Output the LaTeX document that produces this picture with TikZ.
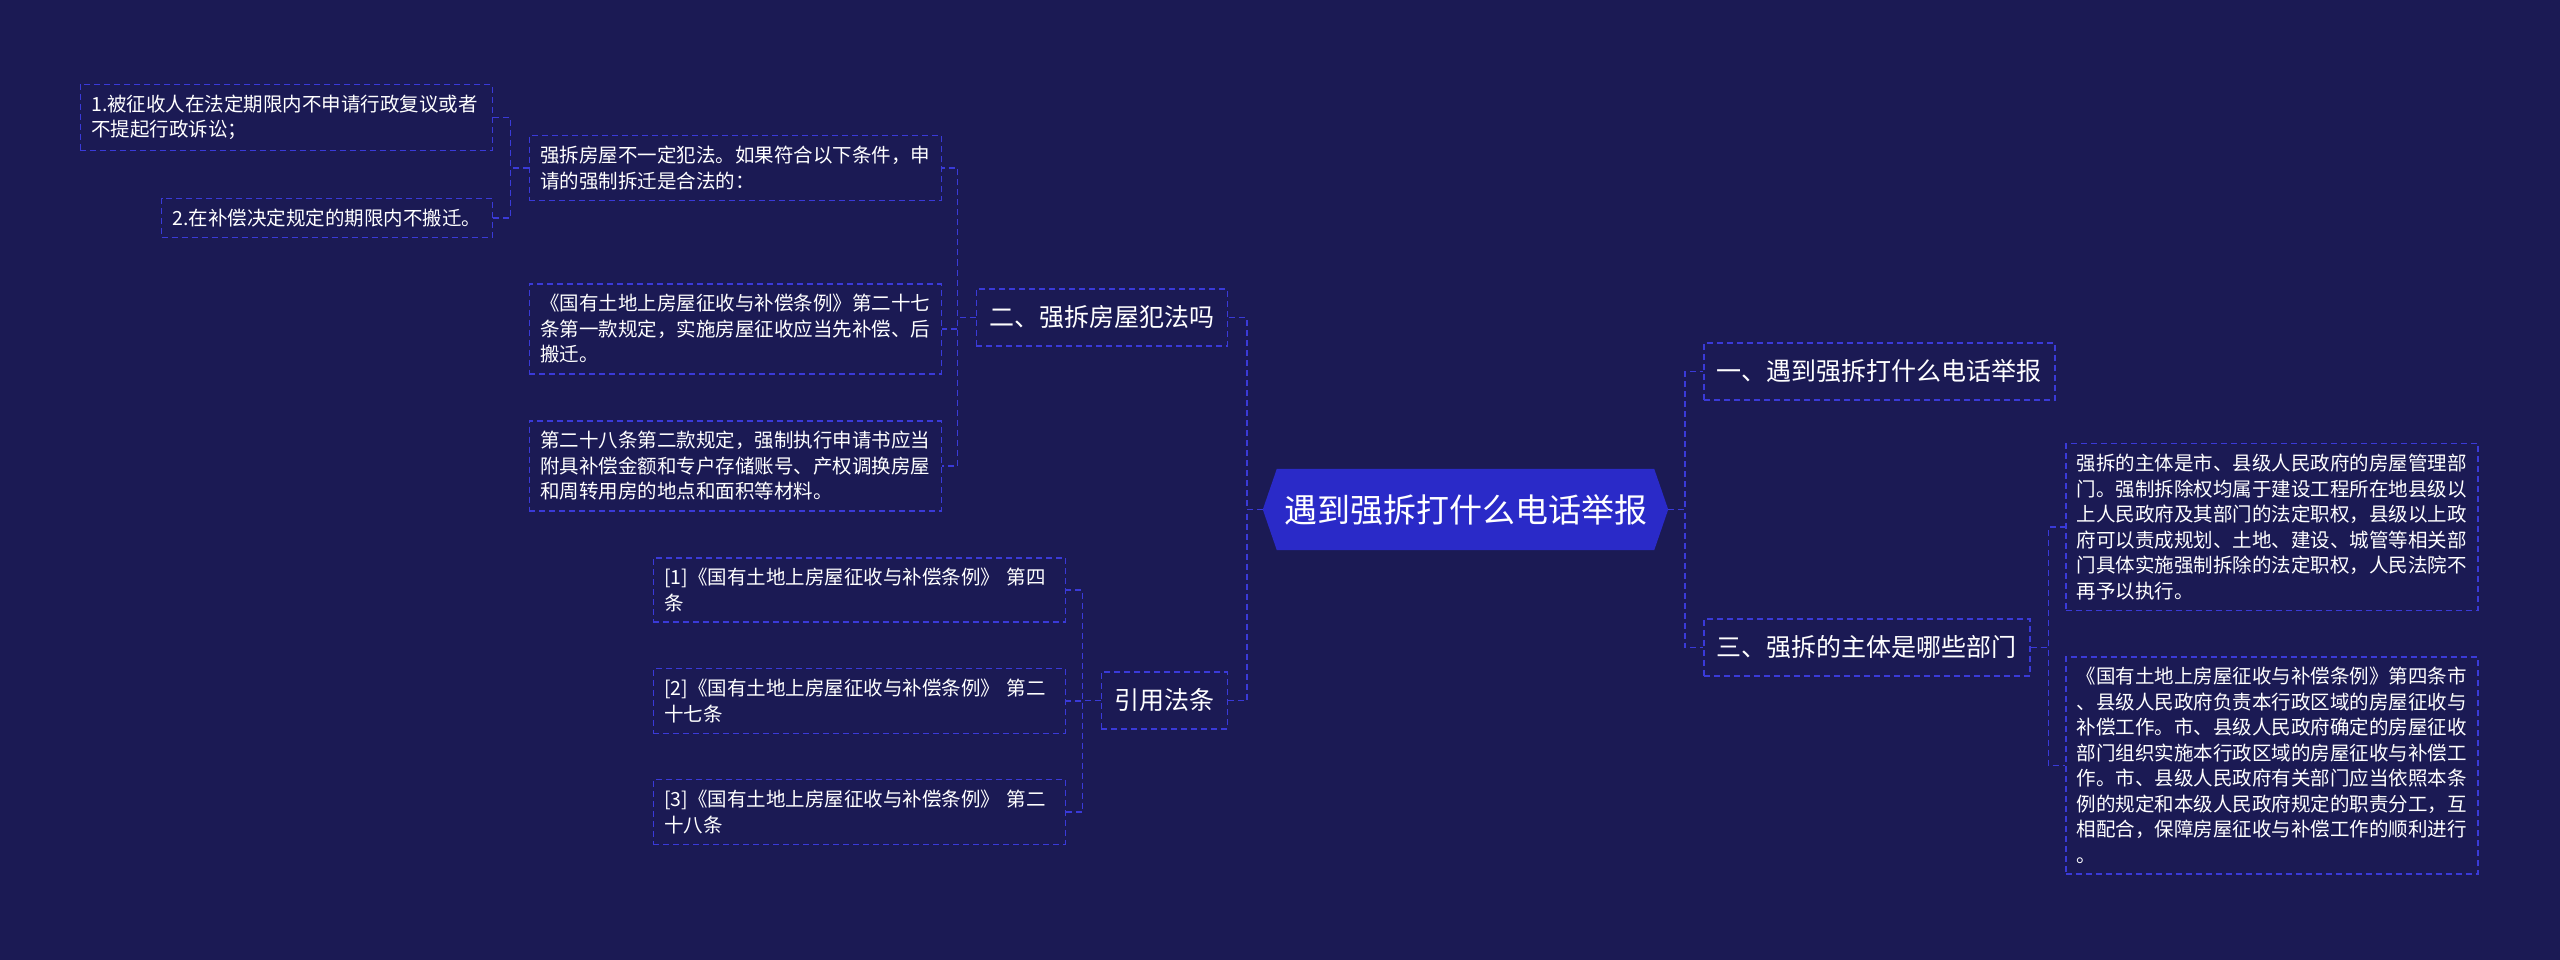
\documentclass[tikz,border=0pt]{standalone}
\usepackage{fontspec}
\setmainfont{Noto Sans CJK SC}
\usetikzlibrary{backgrounds}
\definecolor{bgc}{HTML}{1B1A54}
\definecolor{hexc}{HTML}{2A2AC8}
\definecolor{linec}{HTML}{3A3AD8}
\begin{document}
\begin{tikzpicture}[x=1pt,y=-1pt,
  boxline/.style={draw=linec,line width=1.5pt,dash pattern=on 6pt off 4pt},
  leaf/.style={boxline,text=white,inner xsep=11pt,inner ysep=10.5pt,text width=390pt,align=left,font=\fontsize{19.5}{25.5}\selectfont},
  shortleaf/.style={boxline,text=white,inner xsep=11pt,inner ysep=10.5pt,align=left,font=\fontsize{19.5}{25.5}\selectfont},
  topic/.style={boxline,text=white,inner xsep=13pt,inner ysep=0pt,minimum height=57pt,font=\fontsize{25}{30}\selectfont},
  conn/.style={draw=linec,line width=1.5pt,dash pattern=on 6pt off 4pt}]
\begin{scope}[on background layer]
\fill[bgc] (0,0) rectangle (2560,960);
\end{scope}
\useasboundingbox (0,0) rectangle (2560,960);

% central node
\node[text=white,font=\fontsize{33}{38}\selectfont,minimum width=405pt,minimum height=81pt,inner sep=0pt] (c) at (1465.5,509.5) {遇到强拆打什么电话举报};
\begin{scope}[on background layer]
\fill[hexc] (c.west) -- ([xshift=14pt]c.north west) -- ([xshift=-14pt]c.north east) -- (c.east) -- ([xshift=-14pt]c.south east) -- ([xshift=14pt]c.south west) -- cycle;
\end{scope}

% first level
\node[topic,anchor=east] (n2) at (1228,317.5) {二、强拆房屋犯法吗};
\node[topic,anchor=east] (n4) at (1228,700.5) {引用法条};
\node[topic,anchor=west] (n1) at (1703,371.5) {一、遇到强拆打什么电话举报};
\node[topic,anchor=west] (n3) at (1703,647.5) {三、强拆的主体是哪些部门};

% leaves of n2
\node[leaf,anchor=east] (la) at (942,168) {强拆房屋不一定犯法。如果符合以下条件，申\\请的强制拆迁是合法的：};
\node[leaf,anchor=east] (lb) at (942,329) {《国有土地上房屋征收与补偿条例》第二十七\\条第一款规定，实施房屋征收应当先补偿、后\\搬迁。};
\node[leaf,anchor=east] (lc) at (942,466) {第二十八条第二款规定，强制执行申请书应当\\附具补偿金额和专户存储账号、产权调换房屋\\和周转用房的地点和面积等材料。};

% leaves of la
\node[leaf,anchor=east] (a1) at (493,117.5) {1.被征收人在法定期限内不申请行政复议或者\\不提起行政诉讼；};
\node[shortleaf,anchor=east] (a2) at (493,218) {2.在补偿决定规定的期限内不搬迁。};

% leaves of n4
\node[leaf,anchor=east] (r1) at (1066,590) {[1]《国有土地上房屋征收与补偿条例》 第四\\条};
\node[leaf,anchor=east] (r2) at (1066,701) {[2]《国有土地上房屋征收与补偿条例》 第二\\十七条};
\node[leaf,anchor=east] (r3) at (1066,812) {[3]《国有土地上房屋征收与补偿条例》 第二\\十八条};

% leaves of n3
\node[leaf,anchor=west] (q1) at (2065,527) {强拆的主体是市、县级人民政府的房屋管理部\\门。强制拆除权均属于建设工程所在地县级以\\上人民政府及其部门的法定职权，县级以上政\\府可以责成规划、土地、建设、城管等相关部\\门具体实施强制拆除的法定职权，人民法院不\\再予以执行。};
\node[leaf,anchor=west] (q2) at (2065,765.5) {《国有土地上房屋征收与补偿条例》第四条市\\、县级人民政府负责本行政区域的房屋征收与\\补偿工作。市、县级人民政府确定的房屋征收\\部门组织实施本行政区域的房屋征收与补偿工\\作。市、县级人民政府有关部门应当依照本条\\例的规定和本级人民政府规定的职责分工，互\\相配合，保障房屋征收与补偿工作的顺利进行\\。};

% connectors
\draw[conn] (c.west) -- ++(-16,0) |- (n2.east);
\draw[conn] (c.west) -- ++(-16,0) |- (n4.east);
\draw[conn] (c.east) -- ++(17,0) |- (n1.west);
\draw[conn] (c.east) -- ++(17,0) |- (n3.west);
\draw[conn] (n2.west) -- ++(-18,0) |- (la.east);
\draw[conn] (n2.west) -- ++(-18,0) |- (lb.east);
\draw[conn] (n2.west) -- ++(-18,0) |- (lc.east);
\draw[conn] (la.west) -- ++(-18,0) |- (a1.east);
\draw[conn] (la.west) -- ++(-18,0) |- (a2.east);
\draw[conn] (n4.west) -- ++(-18,0) |- (r1.east);
\draw[conn] (n4.west) -- ++(-18,0) |- (r2.east);
\draw[conn] (n4.west) -- ++(-18,0) |- (r3.east);
\draw[conn] (n3.east) -- ++(18,0) |- (q1.west);
\draw[conn] (n3.east) -- ++(18,0) |- (q2.west);
\end{tikzpicture}
\end{document}
